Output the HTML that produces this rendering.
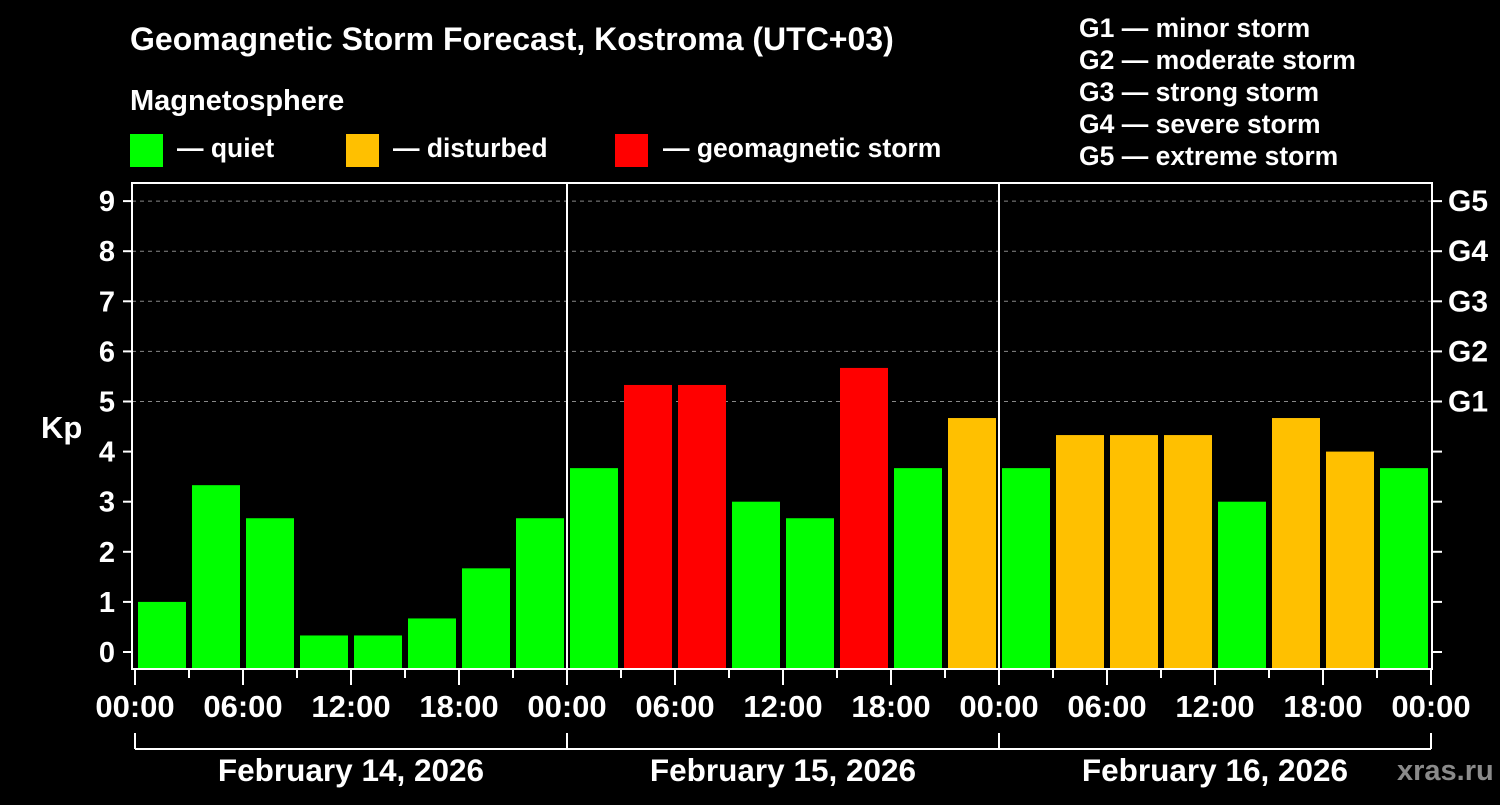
<!DOCTYPE html>
<html><head><meta charset="utf-8"><style>
body{margin:0;background:#000;width:1500px;height:800px;overflow:hidden}
svg text{font-family:"Liberation Sans",sans-serif;font-weight:bold;fill:#fff}
</style></head><body>
<svg id="c" width="1500" height="800">
<rect width="1500" height="800" fill="#000"/>
<text x="130" y="50" font-size="32">Geomagnetic Storm Forecast, Kostroma (UTC+03)</text>
<text x="130" y="110" font-size="29">Magnetosphere</text>
<g><rect x="130" y="134" width="33" height="33" fill="#00ff00"/><text x="177" y="157" font-size="26.5">— quiet</text></g>
<g><rect x="346" y="134" width="33" height="33" fill="#ffc000"/><text x="393" y="157" font-size="26.5">— disturbed</text></g>
<g><rect x="615" y="134" width="33" height="33" fill="#ff0000"/><text x="663" y="157" font-size="26.5">— geomagnetic storm</text></g>
<g>
<text x="1079" y="37" font-size="26.5">G1 — minor storm</text>
<text x="1079" y="69" font-size="26.5">G2 — moderate storm</text>
<text x="1079" y="101" font-size="26.5">G3 — strong storm</text>
<text x="1079" y="133" font-size="26.5">G4 — severe storm</text>
<text x="1079" y="165" font-size="26.5">G5 — extreme storm</text>
</g>
<text x="41" y="438" font-size="31">Kp</text>
<text x="1397" y="780" font-size="29" style="fill:#8a8a8a">xras.ru</text>
<g id="plot"></g>
</svg>
<script>
const kpValues=[1,3.33,2.67,0.33,0.33,0.67,1.67,2.67, 3.67,5.33,5.33,3,2.67,5.67,3.67,4.67, 3.67,4.33,4.33,4.33,3,4.67,4,3.67];
const dayLabels=["February 14, 2026","February 15, 2026","February 16, 2026"];
const hourLabels=["00:00","06:00","12:00","18:00"];
const gLabels=["G1","G2","G3","G4","G5"];
const ns="http://www.w3.org/2000/svg";
const g=document.getElementById('plot');
const X0=135,SLOT=54,Y0=652,UNIT=50.1,TOP=183,BOT=669,L=132,R=1432;
const y=k=>Y0-k*UNIT, x=i=>X0+i*SLOT;
function mk(t,a,txt){const e=document.createElementNS(ns,t);for(const k in a)e.setAttribute(k,a[k]);if(txt!=null)e.textContent=txt;g.appendChild(e);return e;}
for(let k=5;k<=9;k++){const e=mk('line',{x1:L,x2:R,y1:y(k),y2:y(k),stroke:'#888','stroke-dasharray':'4,4','stroke-width':1});

}
kpValues.forEach((v,i)=>{const c=v>=5?'#ff0000':(v>=4?'#ffc000':'#00ff00');
const e=mk('rect',{x:x(i)+3,y:y(v),width:48,height:BOT-y(v),fill:c});

});
const fr=mk('rect',{x:L,y:TOP,width:R-L,height:BOT-TOP,fill:'none',stroke:'#fff','stroke-width':2});


for(let d=1;d<3;d++){const e=mk('line',{x1:x(d*8),x2:x(d*8),y1:TOP,y2:BOT,stroke:'#fff','stroke-width':2});

}
for(let k=0;k<=9;k++){
mk('line',{x1:123,x2:L,y1:y(k),y2:y(k),stroke:'#fff','stroke-width':2});
mk('line',{x1:R,x2:1442,y1:y(k),y2:y(k),stroke:'#fff','stroke-width':2});
const t=mk('text',{x:115,y:y(k)+10,'font-size':29,'text-anchor':'end'},String(k));

}
gLabels.forEach((s,i)=>{const t=mk('text',{x:1448,y:y(5+i)+10,'font-size':30},s);

});
for(let i=0;i<=24;i++){const maj=i%2==0;
mk('line',{x1:x(i),x2:x(i),y1:BOT,y2:maj?685:678,stroke:'#fff','stroke-width':2});
if(maj){const t=mk('text',{x:x(i),y:717,'font-size':31,'text-anchor':'middle'},hourLabels[(i/2)%4]);

}}
mk('line',{x1:x(0),x2:x(24),y1:749,y2:749,stroke:'#fff','stroke-width':2});
for(let d=0;d<=3;d++)mk('line',{x1:x(d*8),x2:x(d*8),y1:733,y2:749,stroke:'#fff','stroke-width':2});
dayLabels.forEach((s,d)=>{const t=mk('text',{x:x(d*8+4),y:781,'font-size':31.5,'text-anchor':'middle'},s);

});
</script>
</body></html>
